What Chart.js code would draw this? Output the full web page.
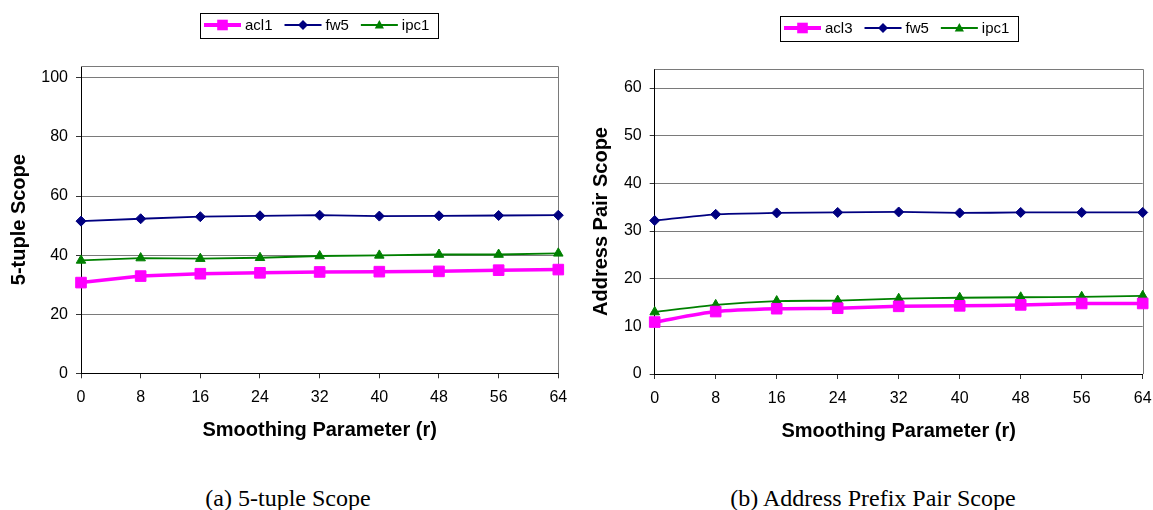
<!DOCTYPE html>
<html><head><meta charset="utf-8">
<script src="https://cdn.jsdelivr.net/npm/chart.js@4.4.1/dist/chart.umd.min.js"></script>
<style>
html,body{margin:0;padding:0;background:#fff;width:1153px;height:510px;overflow:hidden}
.wrap{position:absolute;top:0;height:460px}
.cap{position:absolute;top:485px;font-family:"Liberation Serif","Times New Roman",serif;font-size:24px;color:#000;transform:translateX(-50%);white-space:nowrap;line-height:26px}
</style></head><body>
<div class="wrap" style="left:0;width:576px"><canvas id="c1" width="576" height="460"></canvas></div>
<div class="wrap" style="left:576px;width:577px"><canvas id="c2" width="577" height="460"></canvas></div>
<div class="cap" style="left:288px">(a) 5-tuple Scope</div>
<div class="cap" style="left:873px">(b) Address Prefix Pair Scope</div>
<script>
// ---- data ----
const xLabels = ['0','8','16','24','32','40','48','56','64'];

const leftAcl1 = [30.7, 32.9, 33.7, 34.0, 34.3, 34.4, 34.5, 34.9, 35.1];
const leftFw5  = [51.5, 52.3, 53.0, 53.3, 53.5, 53.2, 53.3, 53.4, 53.5];
const leftIpc1 = [38.2, 39.0, 38.8, 39.1, 39.7, 39.9, 40.2, 40.2, 40.6];

const rightAcl3 = [10.9, 13.1, 13.7, 13.8, 14.2, 14.3, 14.5, 14.8, 14.8];
const rightFw5  = [32.2, 33.5, 33.8, 33.9, 34.0, 33.8, 33.9, 33.9, 33.9];
const rightIpc1 = [13.0, 14.5, 15.3, 15.4, 15.8, 16.0, 16.1, 16.2, 16.4];

const leftYTicks  = [0, 20, 40, 60, 80, 100];
const rightYTicks = [0, 10, 20, 30, 40, 50, 60];

const xTitle = 'Smoothing Parameter (r)';
const leftYTitle = '5-tuple Scope';
const rightYTitle = 'Address Pair Scope';

// ---- styling ----
const SANS = '"Liberation Sans", Arial, sans-serif';
const GRID = '#7a7a7a';

function magentaSet(label, data, tension) {
  return {label, data, borderColor:'#FF00FF', backgroundColor:'#FF00FF', borderWidth:3.5,
    pointStyle:'rect', pointRadius:7.5, pointHoverRadius:7.5, pointBackgroundColor:'#FF00FF',
    pointBorderColor:'#FF00FF', pointBorderWidth:1, tension, clip:false, mk:'square', order:1};
}
function navySet(label, data, tension) {
  return {label, data, borderColor:'#000080', backgroundColor:'#000080', borderWidth:1.8,
    pointStyle:'rectRot', pointRadius:5, pointHoverRadius:5, pointBackgroundColor:'#000080',
    pointBorderColor:'#000080', pointBorderWidth:1, tension, clip:false, mk:'diamond', order:2};
}
function greenSet(label, data, tension) {
  return {label, data, borderColor:'#008000', backgroundColor:'#008000', borderWidth:1.8,
    pointStyle:'triangle', pointRadius:5.5, pointHoverRadius:5.5, pointBackgroundColor:'#008000',
    pointBorderColor:'#008000', pointBorderWidth:1, tension, clip:false, mk:'triangle', order:3};
}

function drawMarker(ctx, kind, x, y, color) {
  ctx.fillStyle = color;
  ctx.beginPath();
  if (kind === 'square') {
    ctx.rect(x - 5.3, y - 5.3, 10.6, 10.6);
  } else if (kind === 'diamond') {
    ctx.moveTo(x - 5, y); ctx.lineTo(x, y - 5); ctx.lineTo(x + 5, y); ctx.lineTo(x, y + 5); ctx.closePath();
  } else {
    ctx.moveTo(x, y - 5); ctx.lineTo(x + 4.6, y + 3.5); ctx.lineTo(x - 4.6, y + 3.5); ctx.closePath();
  }
  ctx.fill();
}

const frameLegend = {
  id: 'frameLegend',
  beforeDatasetsDraw(chart) {
    const {ctx, chartArea:a} = chart;
    ctx.save();
    ctx.strokeStyle = GRID; ctx.lineWidth = 1;
    ctx.beginPath();
    ctx.moveTo(a.left, Math.round(a.top) + 0.5);
    ctx.lineTo(Math.round(a.right) + 0.5, Math.round(a.top) + 0.5);
    ctx.lineTo(Math.round(a.right) + 0.5, a.bottom);
    ctx.stroke();
    ctx.restore();
  },
  afterDraw(chart, args, opts) {
    const {ctx, chartArea:a} = chart;
    ctx.save();
    ctx.font = '15px ' + SANS;
    const dss = chart.data.datasets;
    const lineLen = 37, gapLT = 4, gapItem = 12, padL = 4, padR = 9;
    const widths = dss.map(d => ctx.measureText(d.label).width);
    const total = padL + padR + widths.reduce((s, w) => s + lineLen + gapLT + w, 0) + gapItem * (dss.length - 1);
    const x0 = Math.round((a.left + a.right) / 2 - total / 2);
    const cy = opts.cy, h = 25;
    ctx.strokeStyle = '#000'; ctx.lineWidth = 1;
    ctx.strokeRect(x0 + 0.5, Math.round(cy - h / 2) + 0.5, Math.round(total), h);
    let x = x0 + padL;
    dss.forEach((d, i) => {
      ctx.strokeStyle = d.borderColor;
      ctx.lineWidth = d.mk === 'square' ? 4 : 2;
      ctx.beginPath(); ctx.moveTo(x, cy); ctx.lineTo(x + lineLen, cy); ctx.stroke();
      drawMarker(ctx, d.mk, x + lineLen / 2, cy, d.borderColor);
      x += lineLen + gapLT;
      ctx.fillStyle = '#000'; ctx.textBaseline = 'middle'; ctx.textAlign = 'left';
      ctx.fillText(d.label, x, cy + 1);
      x += widths[i] + gapItem;
    });
    ctx.restore();
  }
};

function makeChart(id, datasets, yTicks, yMax, yTitle, cfg) {
  return new Chart(document.getElementById(id), {
    type: 'line',
    data: { labels: xLabels, datasets },
    options: {
      responsive: false,
      animation: false,
      events: [],
      layout: { padding: { top: cfg.top, right: cfg.right, bottom: cfg.bottom, left: 0 } },
      plugins: { legend: { display: false }, tooltip: { enabled: false }, frameLegend: { cy: cfg.legendCy } },
      scales: {
        x: {
          type: 'category', offset: false,
          grid: { drawOnChartArea: false, drawTicks: true, tickLength: 5, tickColor: '#333' },
          border: { color: '#000', width: 1 },
          ticks: { color: '#000', font: { family: SANS, size: 16 }, padding: 10, maxRotation: 0, autoSkip: false },
          title: { display: true, text: xTitle, color: '#000', font: { family: SANS, size: 20, weight: 'bold' }, padding: { top: 0, bottom: 0 } },
          afterFit: s => { s.height = 69; s.paddingLeft = 0; s.paddingRight = 0; }
        },
        y: {
          min: 0, max: yMax,
          afterBuildTicks: s => { s.ticks = yTicks.map(v => ({ value: v })); },
          grid: { color: GRID, lineWidth: 1, drawTicks: true, tickLength: 5, tickColor: '#333' },
          border: { color: '#000', width: 1 },
          ticks: { color: '#000', font: { family: SANS, size: 16 }, padding: 8 },
          title: { display: true, text: yTitle, color: '#000', font: { family: SANS, size: 20, weight: 'bold' }, padding: { top: cfg.ytPad, bottom: 0 } },
          afterFit: s => { s.width = cfg.yw; s.paddingTop = 0; s.paddingBottom = 0; }
        }
      }
    },
    plugins: [frameLegend]
  });
}

makeChart('c1', [
  magentaSet('acl1', leftAcl1, 0),
  navySet('fw5', leftFw5, 0),
  greenSet('ipc1', leftIpc1, 0)
], leftYTicks, 104, leftYTitle, { top: 66, right: 17.7, bottom: 17.7, yw: 81, ytPad: 7, legendCy: 25 });

makeChart('c2', [
  magentaSet('acl3', rightAcl3, 0.25),
  navySet('fw5', rightFw5, 0.25),
  greenSet('ipc1', rightIpc1, 0.25)
], rightYTicks, 64, rightYTitle, { top: 69, right: 10.3, bottom: 17, yw: 78.7, ytPad: 13.7, legendCy: 28 });
</script>
</body></html>
